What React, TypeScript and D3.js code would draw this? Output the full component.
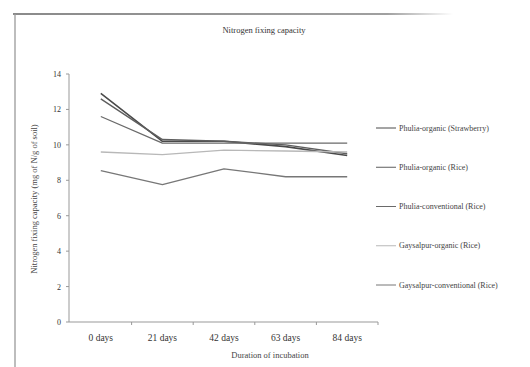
import React from "react";
import * as d3 from "d3";

const categories = ["0 days", "21 days", "42 days", "63 days", "84 days"];
const seriesNames = [
  "Phulia-organic (Strawberry)",
  "Phulia-organic (Rice)",
  "Phulia-conventional (Rice)",
  "Gaysalpur-organic (Rice)",
  "Gaysalpur-conventional (Rice)",
];
const strawberry = [12.9, 10.2, 10.2, 9.9, 9.4];
const phuliaRice = [12.6, 10.3, 10.2, 10.0, 9.5];
const phuliaConv = [11.6, 10.1, 10.1, 10.1, 10.1];
const gaysalOrg = [9.6, 9.45, 9.7, 9.65, 9.6];
const gaysalConv = [8.55, 7.75, 8.65, 8.2, 8.2];
const yTicks = [0, 2, 4, 6, 8, 10, 12, 14];

const seriesValues = [strawberry, phuliaRice, phuliaConv, gaysalOrg, gaysalConv];
const colors = ["#4a4a4a", "#5e5e5e", "#6a6a6a", "#b8b8b8", "#777777"];
const widths = [1.6, 1.4, 1.3, 1.4, 1.3];

export default function App() {
  const W = 530, H = 367;
  const x = d3.scaleBand<string>().domain(categories).range([70, 378]);
  const y = d3.scaleLinear().domain([0, 14]).range([322, 74]);
  const line = d3
    .line<number>()
    .x((_, i) => (x(categories[i]) as number) + x.bandwidth() / 2)
    .y((d) => y(d));
  const font = "'Liberation Serif', 'DejaVu Serif', serif";
  const legendY = d3.scalePoint<string>().domain(seriesNames).range([128, 285]);
  return (
    <svg width={W} height={H} style={{ position: "absolute", left: 0, top: 0 }}>
      <defs>
        <linearGradient id="topfade" x1="0" x2="1" y1="0" y2="0">
          <stop offset="0" stopColor="#8a8a8a" />
          <stop offset="0.85" stopColor="#a0a0a0" />
          <stop offset="1" stopColor="#ffffff" />
        </linearGradient>
      </defs>
      <rect width={W} height={H} fill="#fff" />
      <rect x={13} y={13} width={440} height={2} fill="url(#topfade)" />
      <line x1={15} x2={15} y1={14} y2={H} stroke="#9a9a9a" strokeWidth={1.3} />
      <text x={264} y={33} textAnchor="middle" fontFamily={font} fontSize={8.5} fill="#333">
        Nitrogen fixing capacity
      </text>
      {/* y axis */}
      <line x1={69} x2={69} y1={y(14)} y2={y(0)} stroke="#999" strokeWidth={1} />
      {yTicks.map((t) => (
        <g key={t}>
          <line x1={66} x2={69} y1={y(t)} y2={y(t)} stroke="#999" />
          <text x={61} y={y(t) + 3} textAnchor="end" fontFamily={font} fontSize={8} fill="#333">
            {t}
          </text>
        </g>
      ))}
      {/* x axis */}
      <line x1={69} x2={378} y1={y(0)} y2={y(0)} stroke="#999" strokeWidth={1} />
      {categories.map((c) => (
        <g key={c}>
          <line
            x1={(x(c) as number) + x.bandwidth()}
            x2={(x(c) as number) + x.bandwidth()}
            y1={y(0)}
            y2={y(0) + 3}
            stroke="#999"
          />
          <text
            x={(x(c) as number) + x.bandwidth() / 2}
            y={341}
            textAnchor="middle"
            fontFamily={font}
            fontSize={9.5}
            fill="#333"
          >
            {c}
          </text>
        </g>
      ))}
      <text x={270} y={358} textAnchor="middle" fontFamily={font} fontSize={8.5} fill="#444">
        Duration of incubation
      </text>
      <text
        transform={`translate(37,${(y(14) + y(0)) / 2 + 1}) rotate(-90)`}
        textAnchor="middle"
        fontFamily={font}
        fontSize={8.5}
        fill="#444"
      >
        Nitrogen fixing capacity (mg of N/g of soil)
      </text>
      {seriesValues.map((s, k) => (
        <path
          key={k}
          d={line(s) as string}
          fill="none"
          stroke={colors[k]}
          strokeWidth={widths[k]}
          strokeLinejoin="round"
        />
      ))}
      {seriesNames.map((n, k) => (
        <g key={n}>
          <line
            x1={376}
            x2={396}
            y1={legendY(n) as number}
            y2={legendY(n) as number}
            stroke={colors[k]}
            strokeWidth={1}
          />
          <text x={399} y={(legendY(n) as number) + 2.5} fontFamily={font} fontSize={8} fill="#444">
            {n}
          </text>
        </g>
      ))}
    </svg>
  );
}
